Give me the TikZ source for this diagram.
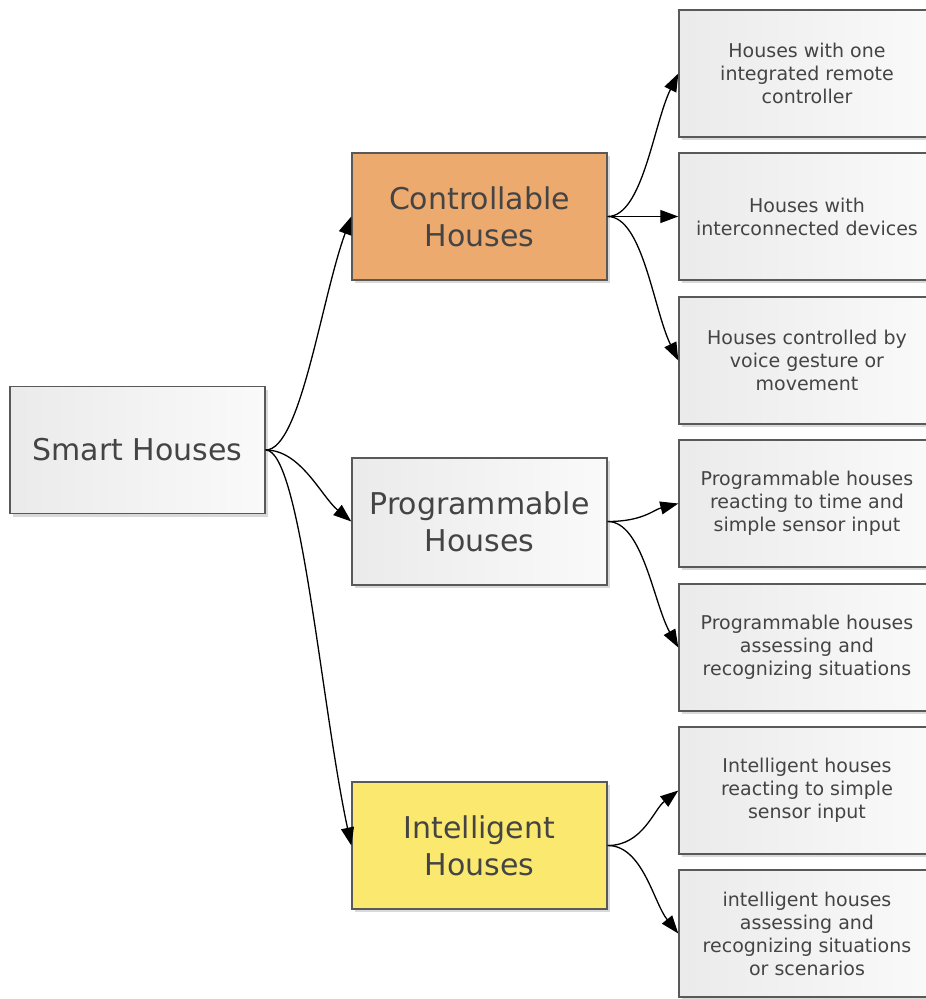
\documentclass[tikz,border=0pt]{standalone}
\usepackage{fontspec}
\setmainfont{DejaVu Sans}
\usetikzlibrary{arrows.meta,calc,shadows}
\definecolor{boxtext}{HTML}{444444}
\definecolor{ctrlorange}{HTML}{EDAA6F}
\definecolor{intyellow}{HTML}{FBE96F}
\tikzset{
  house/.style={
    shape = rectangle,
    draw = black!65,
    line width = 1.4pt,
    minimum width = 255pt,
    minimum height = 127pt,
    align = center,
    text = boxtext,
    drop shadow = {shadow xshift=3pt, shadow yshift=-3pt,
                   fill=black, opacity=0.15}
  },
}
\tikzset{
  greyhouse/.style={
    house,
    shading = axis,
    shading angle = 60,
    left color = black!8,
    right color = black!2
  },
}
\tikzset{
  mainbox/.style={
    font = \fontsize{30}{37}\selectfont
  },
  leafbox/.style={
    greyhouse,
    minimum width = 256pt,
    font = \fontsize{19}{23}\selectfont
  },
  branch/.style={
    line width = 1.3pt,
    -{Triangle[length=18pt,width=13pt]}
  }
}

\begin{document}
\begin{tikzpicture}[x=1pt, y=-1pt]
    \useasboundingbox (0,0) rectangle (926,999);

    % root and the three kinds
    \node[greyhouse, mainbox] (smart) at (137.5,450) {Smart Houses};
    \node[house, mainbox, fill=ctrlorange] (ctrl) at (479.5,216.5) {Controllable\\Houses};
    \node[greyhouse, mainbox] (prog) at (479.5,521.5) {Programmable\\Houses};
    \node[house, mainbox, fill=intyellow] (intel) at (479.5,845.5) {Intelligent\\Houses};

    % leaves
    \node[leafbox] (ctrlA) at (807,73.5) {Houses with one\\integrated remote\\controller};
    \node[leafbox] (ctrlB) at (807,216.5) {Houses with\\interconnected devices};
    \node[leafbox] (ctrlC) at (807,360.5) {Houses controlled by\\voice gesture or\\movement};
    \node[leafbox] (progA) at (807,503.5) {Programmable houses\\reacting to time and\\simple sensor input};
    \node[leafbox] (progB) at (807,647.5) {Programmable houses\\assessing and\\recognizing situations};
    \node[leafbox] (intelA) at (807,790.5) {Intelligent houses\\reacting to simple\\sensor input};
    \node[leafbox] (intelB) at (807,933.5) {intelligent houses\\assessing and\\recognizing situations\\or scenarios};

    % curved connectors
    \foreach \from/\to in {smart/ctrl, smart/prog, smart/intel,
                           ctrl/ctrlA, ctrl/ctrlB, ctrl/ctrlC,
                           prog/progA, prog/progB,
                           intel/intelA, intel/intelB}
        \draw[branch] (\from.east) .. controls +(35,0) and ($(\to.west)!0.35!(\from.east)$) .. (\to.west);
\end{tikzpicture}
\end{document}
